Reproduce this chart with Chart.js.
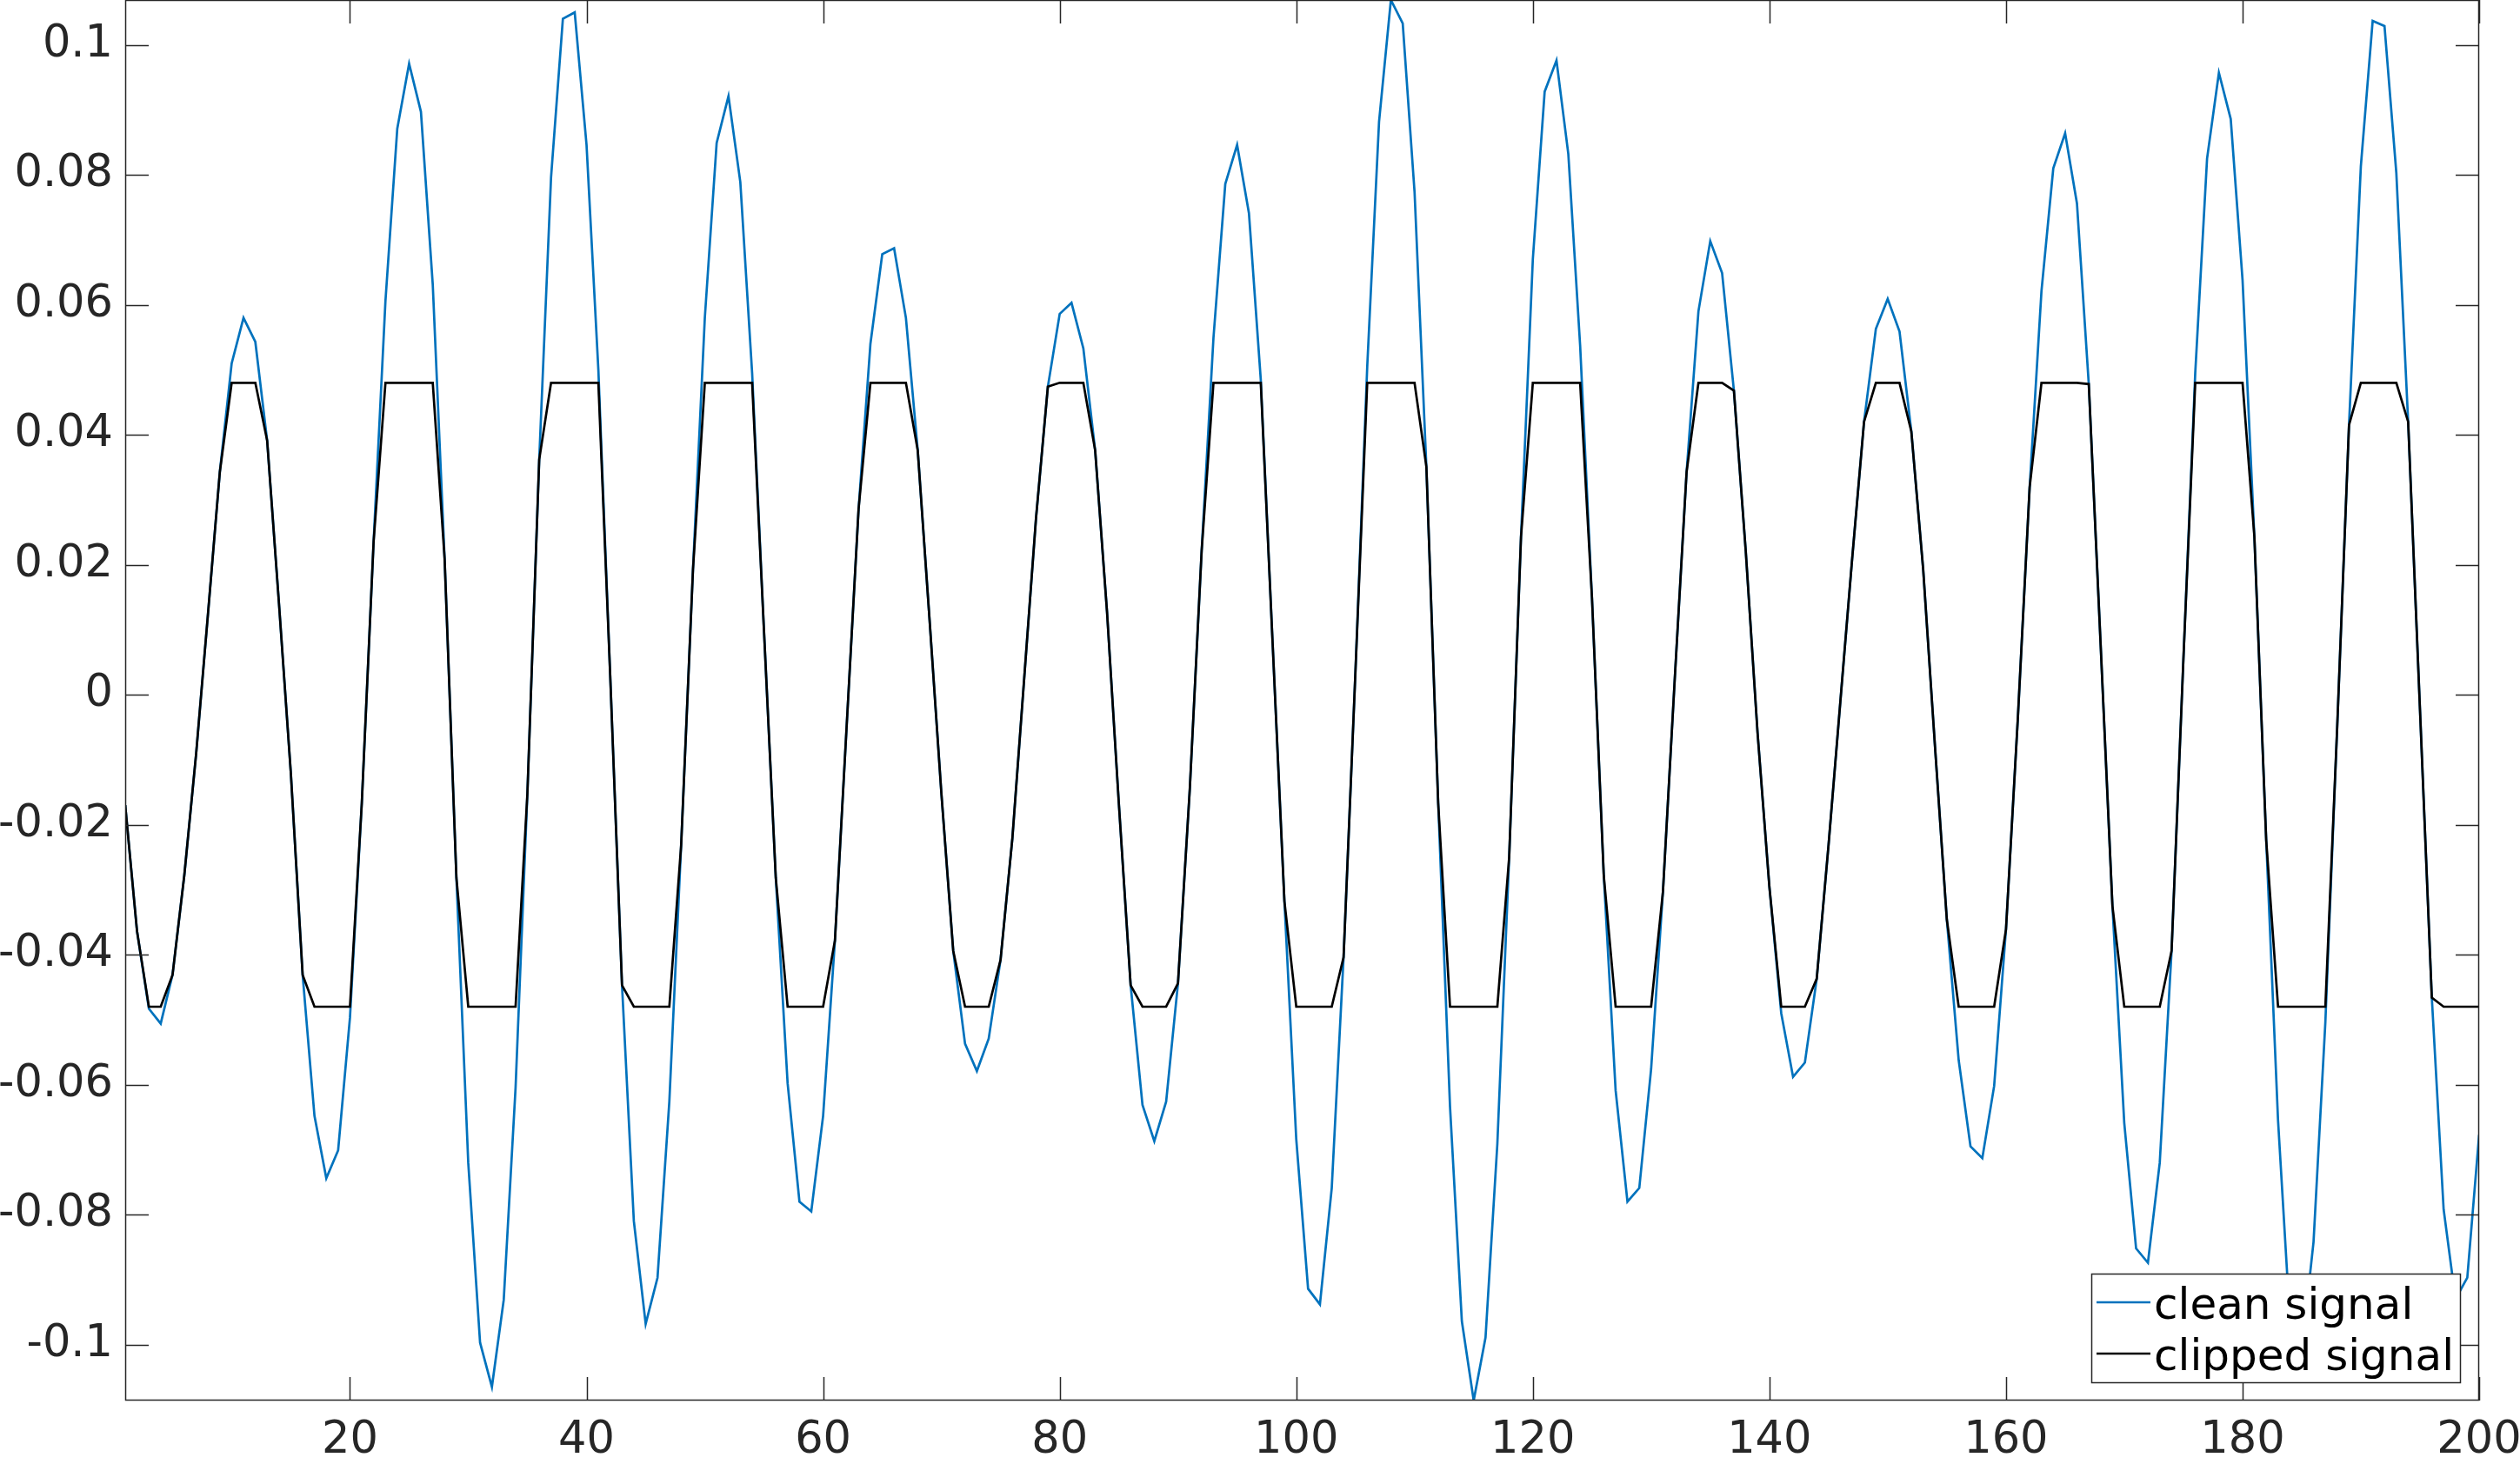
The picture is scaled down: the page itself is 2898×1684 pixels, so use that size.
<!DOCTYPE html>
<html>
<head>
<meta charset="utf-8">
<script src="https://cdn.jsdelivr.net/npm/chart.js@4.4.1/dist/chart.umd.min.js"></script>
<style>
  html, body { margin: 0; padding: 0; background: #ffffff; }
  #wrap { width: 2898px; height: 1684px; }
</style>
</head>
<body>
<div id="wrap"><canvas id="c" width="2898" height="1684"></canvas></div>
<script>
// ---- data ----
const SAMPLE_INDEX = Array.from({ length: 200 }, (_, i) => i + 1);

const CLEAN_SIGNAL = [
  -0.0170, -0.0364, -0.0483, -0.0506, -0.0431, -0.0277, -0.0090, 0.0125, 0.0343, 0.0510,
  0.0580, 0.0543, 0.0391, 0.0140, -0.0120, -0.0431, -0.0648, -0.0744, -0.0701, -0.0497,
  -0.0167, 0.0236, 0.0606, 0.0871, 0.0971, 0.0897, 0.0631, 0.0210, -0.0282, -0.0720,
  -0.0997, -0.1065, -0.0931, -0.0605, -0.0152, 0.0362, 0.0796, 0.1040, 0.1050, 0.0846,
  0.0500, 0.0030, -0.0447, -0.0810, -0.0968, -0.0897, -0.0626, -0.0231, 0.0193, 0.0580,
  0.0849, 0.0921, 0.0789, 0.0495, 0.0099, -0.0282, -0.0598, -0.0780, -0.0795, -0.0648,
  -0.0378, -0.0045, 0.0286, 0.0540, 0.0678, 0.0687, 0.0580, 0.0376, 0.0115, -0.0152,
  -0.0394, -0.0537, -0.0579, -0.0529, -0.0408, -0.0221, 0.0025, 0.0272, 0.0474, 0.0586,
  0.0603, 0.0533, 0.0376, 0.0128, -0.0167, -0.0447, -0.0631, -0.0687, -0.0626, -0.0444,
  -0.0145, 0.0221, 0.0549, 0.0786, 0.0846, 0.0741, 0.0485, 0.0080, -0.0318, -0.0684,
  -0.0914, -0.0938, -0.0759, -0.0404, 0.0034, 0.0505, 0.0882, 0.1069, 0.1033, 0.0774,
  0.0351, -0.0167, -0.0634, -0.0964, -0.1086, -0.0989, -0.0691, -0.0250, 0.0243, 0.0670,
  0.0928, 0.0976, 0.0832, 0.0537, 0.0149, -0.0279, -0.0609, -0.0780, -0.0759, -0.0576,
  -0.0303, 0.0025, 0.0343, 0.0590, 0.0698, 0.0649, 0.0468, 0.0221, -0.0059, -0.0296,
  -0.0490, -0.0588, -0.0566, -0.0437, -0.0231, -0.0010, 0.0210, 0.0420, 0.0563, 0.0609,
  0.0559, 0.0405, 0.0193, -0.0080, -0.0346, -0.0562, -0.0695, -0.0713, -0.0602, -0.0361,
  -0.0037, 0.0319, 0.0621, 0.0810, 0.0864, 0.0756, 0.0478, 0.0078, -0.0325, -0.0659,
  -0.0852, -0.0874, -0.0720, -0.0394, 0.0055, 0.0495, 0.0825, 0.0957, 0.0886, 0.0638,
  0.0243, -0.0224, -0.0655, -0.0961, -0.1010, -0.0842, -0.0504, -0.0050, 0.0415, 0.0813,
  0.1037, 0.1029, 0.0803, 0.0420, -0.0023, -0.0466, -0.0792, -0.0930, -0.0897, -0.0677
];

const CLIPPED_SIGNAL = [
  -0.0170, -0.0364, -0.048, -0.048, -0.0431, -0.0277, -0.0090, 0.0125, 0.0343, 0.048,
  0.048, 0.048, 0.0391, 0.0140, -0.0120, -0.0431, -0.048, -0.048, -0.048, -0.048,
  -0.0167, 0.0236, 0.048, 0.048, 0.048, 0.048, 0.048, 0.0210, -0.0282, -0.048,
  -0.048, -0.048, -0.048, -0.048, -0.0152, 0.0362, 0.048, 0.048, 0.048, 0.048,
  0.048, 0.0030, -0.0447, -0.048, -0.048, -0.048, -0.048, -0.0231, 0.0193, 0.048,
  0.048, 0.048, 0.048, 0.048, 0.0099, -0.0282, -0.048, -0.048, -0.048, -0.048,
  -0.0378, -0.0045, 0.0286, 0.048, 0.048, 0.048, 0.048, 0.0376, 0.0115, -0.0152,
  -0.0394, -0.048, -0.048, -0.048, -0.0408, -0.0221, 0.0025, 0.0272, 0.0474, 0.048,
  0.048, 0.048, 0.0376, 0.0128, -0.0167, -0.0447, -0.048, -0.048, -0.048, -0.0444,
  -0.0145, 0.0221, 0.048, 0.048, 0.048, 0.048, 0.048, 0.0080, -0.0318, -0.048,
  -0.048, -0.048, -0.048, -0.0404, 0.0034, 0.048, 0.048, 0.048, 0.048, 0.048,
  0.0351, -0.0167, -0.048, -0.048, -0.048, -0.048, -0.048, -0.0250, 0.0243, 0.048,
  0.048, 0.048, 0.048, 0.048, 0.0149, -0.0279, -0.048, -0.048, -0.048, -0.048,
  -0.0303, 0.0025, 0.0343, 0.048, 0.048, 0.048, 0.0468, 0.0221, -0.0059, -0.0296,
  -0.048, -0.048, -0.048, -0.0437, -0.0231, -0.0010, 0.0210, 0.0420, 0.048, 0.048,
  0.048, 0.0405, 0.0193, -0.0080, -0.0346, -0.048, -0.048, -0.048, -0.048, -0.0361,
  -0.0037, 0.0319, 0.048, 0.048, 0.048, 0.048, 0.0478, 0.0078, -0.0325, -0.048,
  -0.048, -0.048, -0.048, -0.0394, 0.0055, 0.048, 0.048, 0.048, 0.048, 0.048,
  0.0243, -0.0224, -0.048, -0.048, -0.048, -0.048, -0.048, -0.0050, 0.0415, 0.048,
  0.048, 0.048, 0.048, 0.0420, -0.0023, -0.0466, -0.048, -0.048, -0.048, -0.048
];

const SERIES_NAMES = ['clean signal', 'clipped signal'];

const X_TICKS = [20, 40, 60, 80, 100, 120, 140, 160, 180, 200];
const X_TICK_LABELS = ['20', '40', '60', '80', '100', '120', '140', '160', '180', '200'];
const Y_TICKS = [-0.1, -0.08, -0.06, -0.04, -0.02, 0, 0.02, 0.04, 0.06, 0.08, 0.1];
const Y_TICK_LABELS = ['-0.1', '-0.08', '-0.06', '-0.04', '-0.02', '0', '0.02', '0.04', '0.06', '0.08', '0.1'];
const X_LIMITS = [1, 200];
const Y_LIMITS = [-0.1086, 0.1069];

// ---- styling ----
const AXIS_COLOR = '#262626';
const FONT_FAMILY = '"DejaVu Sans", "Noto Sans", sans-serif';
const TICK_LEN = 27;

const toPoints = (ys) => SAMPLE_INDEX.map((x, i) => ({ x: x, y: ys[i] }));

const axesBox = {
  id: 'axesBox',
  afterDatasetsDraw(chart) {
    const { ctx, chartArea: a, scales } = chart;
    const xs = scales.x, ys = scales.y;
    ctx.save();
    ctx.strokeStyle = AXIS_COLOR;
    ctx.lineWidth = 1.5;
    ctx.beginPath();
    X_TICKS.forEach((v) => {
      const px = Math.round(xs.getPixelForValue(v)) + 0.5;
      ctx.moveTo(px, a.bottom); ctx.lineTo(px, a.bottom - TICK_LEN);
      ctx.moveTo(px, a.top); ctx.lineTo(px, a.top + TICK_LEN);
    });
    Y_TICKS.forEach((v) => {
      const py = Math.round(ys.getPixelForValue(v)) + 0.5;
      ctx.moveTo(a.left, py); ctx.lineTo(a.left + TICK_LEN, py);
      ctx.moveTo(a.right, py); ctx.lineTo(a.right - TICK_LEN, py);
    });
    ctx.stroke();
    ctx.strokeRect(a.left + 0.5, a.top + 0.5, a.right - a.left - 1, a.bottom - a.top - 1);
    ctx.restore();
  }
};

const insideLegend = {
  id: 'insideLegend',
  afterDraw(chart) {
    const { ctx, chartArea: a } = chart;
    const w = 425, h = 126;
    const bx = a.right - 21 - w, by = a.bottom - 20 - h;
    ctx.save();
    ctx.fillStyle = '#ffffff';
    ctx.fillRect(bx, by, w, h);
    ctx.strokeStyle = AXIS_COLOR;
    ctx.lineWidth = 1.5;
    ctx.strokeRect(bx + 0.5, by + 0.5, w - 1, h - 1);
    ctx.font = '50px ' + FONT_FAMILY;
    ctx.textBaseline = 'alphabetic';
    ctx.textAlign = 'left';
    chart.data.datasets.forEach((ds, i) => {
      const ry = by + 33 + i * 59;
      ctx.strokeStyle = ds.borderColor;
      ctx.lineWidth = ds.borderWidth;
      ctx.beginPath();
      ctx.moveTo(bx + 6, ry);
      ctx.lineTo(bx + 68, ry);
      ctx.stroke();
      ctx.fillStyle = '#000000';
      ctx.fillText(ds.label, bx + 72, by + 52 + i * 59);
    });
    ctx.restore();
  }
};

new Chart(document.getElementById('c'), {
  type: 'line',
  data: {
    datasets: [
      { label: SERIES_NAMES[0], data: toPoints(CLEAN_SIGNAL), borderColor: '#0072BD', borderWidth: 2.7, order: 2 },
      { label: SERIES_NAMES[1], data: toPoints(CLIPPED_SIGNAL), borderColor: '#000000', borderWidth: 2.7, order: 1 }
    ]
  },
  options: {
    responsive: false,
    animation: false,
    devicePixelRatio: 1,
    layout: { padding: { top: 0, right: 47, bottom: 0, left: 0 } },
    elements: { point: { radius: 0 }, line: { tension: 0, fill: false } },
    plugins: { legend: { display: false }, tooltip: { enabled: false } },
    scales: {
      x: {
        type: 'linear',
        min: X_LIMITS[0], max: X_LIMITS[1],
        grid: { display: false, drawTicks: false },
        border: { display: false },
        ticks: {
          padding: 16, color: AXIS_COLOR, maxRotation: 0, autoSkip: false,
          font: { family: FONT_FAMILY, size: 51 },
          callback: (v, i) => X_TICK_LABELS[i]
        },
        afterBuildTicks: (s) => { s.ticks = X_TICKS.map((v) => ({ value: v })); },
        afterFit: (s) => { s.height = 73; s.paddingLeft = 0; s.paddingRight = 0; }
      },
      y: {
        type: 'linear',
        min: Y_LIMITS[0], max: Y_LIMITS[1],
        grid: { display: false, drawTicks: false },
        border: { display: false },
        ticks: {
          padding: 14, color: AXIS_COLOR, autoSkip: false,
          font: { family: FONT_FAMILY, size: 51 },
          callback: (v, i) => Y_TICK_LABELS[i]
        },
        afterBuildTicks: (s) => { s.ticks = Y_TICKS.map((v) => ({ value: v })); },
        afterFit: (s) => { s.width = 144; s.paddingTop = 0; s.paddingBottom = 0; }
      }
    }
  },
  plugins: [axesBox, insideLegend]
});
</script>
</body>
</html>
